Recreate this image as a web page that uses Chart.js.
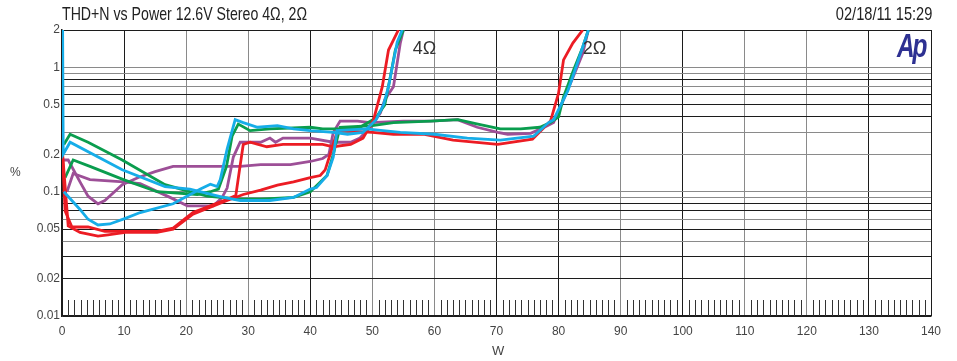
<!DOCTYPE html>
<html>
<head>
<meta charset="utf-8">
<script src="https://cdn.jsdelivr.net/npm/chart.js@4/dist/chart.umd.min.js"></script>
<style>
  body { margin: 0; background: #fff; }
  #wrap { position: relative; width: 957px; height: 361px; }
  .lbl {
    position: absolute;
    font-family: 'Liberation Sans Narrow', 'Arial Narrow', 'Liberation Sans', sans-serif;
    color: #222;
    white-space: nowrap;
    line-height: 1;
  }
  #title { left: 62px; top: 4px; font-size: 19px; transform: scaleX(0.745); transform-origin: left top; }
  #stamp { right: 25px; top: 4px; font-size: 19px; transform: scaleX(0.77); transform-origin: right top; }
  #unitY { left: 10px; top: 166px; font-size: 12px; color: #444; }
  #unitX { left: 492px; top: 344px; font-size: 13px; color: #444; }
  #logo {
    position: absolute; left: 897px; top: 29px;
    font-family: 'Liberation Sans', Arial, sans-serif;
    font-size: 33px; font-weight: bold; font-style: italic;
    color: #2e3192; letter-spacing: -3px; line-height: 1;
    transform: scaleX(0.74); transform-origin: left top;
  }
</style>
</head>
<body>
<div id="wrap">
  <canvas id="thd-chart" width="957" height="361"></canvas>
  <div class="lbl" id="title">THD+N vs Power 12.6V Stereo 4Ω, 2Ω</div>
  <div class="lbl" id="stamp">02/18/11 15:29</div>
  <div class="lbl" id="unitY">%</div>
  <div class="lbl" id="unitX">W</div>
  <div id="logo">Ap</div>
</div>
<script>
// Axis ticks
const xTicks = [0, 10, 20, 30, 40, 50, 60, 70, 80, 90, 100, 110, 120, 130, 140];
const yGridValues = [0.01, 0.02, 0.03, 0.04, 0.05, 0.06, 0.07, 0.08, 0.09,
    0.1, 0.2, 0.3, 0.4, 0.5, 0.6, 0.7, 0.8, 0.9, 1, 2];
const yTickLabels = [2, 1, 0.5, 0.2, 0.1, 0.05, 0.02, 0.01];

// Load annotations
const loadLabels = ['4Ω', '2Ω'];
const loadLabelW = [58.4, 85.8];
const loadLabelPct = [1.4, 1.4];

// 4 ohm curves (power W / THD+N %)
const red4W = [0.1, 0.5, 1.6, 4.2, 6.9, 10.2, 15.3, 17.9, 21.1, 23.9, 26.6, 28.0, 28.6, 29.2, 30.3, 33.0, 35.6, 40.0, 42.0, 43.7, 46.5, 48.5, 50.2, 51.6, 52.6, 54.2];
const red4Pct = [0.19, 0.07, 0.052, 0.052, 0.048, 0.048, 0.048, 0.051, 0.068, 0.077, 0.087, 0.093, 0.15, 0.24, 0.25, 0.23, 0.24, 0.24, 0.24, 0.23, 0.24, 0.27, 0.38, 0.7, 1.38, 2.0];

const green4W = [0.5, 1.8, 4.5, 9.9, 15.3, 21.8, 23.9, 25.2, 26.5, 27.4, 28.4, 30.3, 33.5, 40.0, 42.0, 45.0, 48.0, 50.5, 52.0, 52.9, 53.7, 55.0];
const green4Pct = [0.13, 0.18, 0.16, 0.125, 0.1, 0.095, 0.1, 0.105, 0.16, 0.28, 0.35, 0.31, 0.32, 0.33, 0.32, 0.32, 0.33, 0.39, 0.5, 0.84, 1.38, 2.0];

const cyan4W = [0.3, 2.9, 4.2, 5.8, 7.7, 10.2, 12.6, 17.9, 22.3, 23.9, 25.0, 25.5, 26.6, 27.9, 29.2, 31.5, 34.7, 37.3, 40.0, 43.7, 46.0, 48.5, 50.6, 51.8, 52.6, 53.2, 54.0, 54.8];
const cyan4Pct = [0.1, 0.072, 0.06, 0.054, 0.055, 0.061, 0.068, 0.08, 0.105, 0.115, 0.11, 0.125, 0.22, 0.38, 0.36, 0.33, 0.34, 0.32, 0.31, 0.3, 0.29, 0.3, 0.38, 0.5, 0.7, 1.0, 1.6, 2.0];

const purple4W = [0.8, 1.8, 4.5, 9.9, 12.6, 17.4, 20.2, 24.4, 25.8, 26.6, 27.6, 28.7, 32.0, 33.5, 34.4, 35.6, 40.0, 43.7, 46.5, 48.0, 49.7, 51.3, 52.0, 53.4, 54.5, 55.0];
const purple4Pct = [0.1, 0.14, 0.125, 0.12, 0.116, 0.09, 0.077, 0.077, 0.09, 0.107, 0.19, 0.25, 0.25, 0.27, 0.25, 0.27, 0.27, 0.25, 0.25, 0.27, 0.33, 0.43, 0.55, 0.7, 1.57, 2.0];

// 2 ohm curves
const red2W = [0.1, 1.0, 2.9, 5.8, 7.4, 10.2, 15.3, 17.9, 21.1, 23.9, 26.6, 29.2, 32.0, 34.7, 37.3, 40.0, 41.6, 42.4, 43.2, 44.2, 44.8, 50.0, 53.4, 58.2, 63.0, 70.2, 75.8, 78.7, 80.0, 80.8, 82.3, 83.9];
const red2Pct = [0.2, 0.053, 0.047, 0.044, 0.045, 0.047, 0.047, 0.05, 0.066, 0.075, 0.085, 0.095, 0.103, 0.113, 0.12, 0.13, 0.135, 0.15, 0.2, 0.29, 0.31, 0.3, 0.29, 0.29, 0.26, 0.24, 0.265, 0.37, 0.62, 1.15, 1.57, 2.0];

const green2W = [0.3, 1.3, 4.2, 9.7, 16.6, 20.6, 23.4, 28.7, 32.0, 37.3, 40.0, 42.7, 43.7, 44.8, 50.0, 53.4, 59.4, 63.8, 67.0, 70.6, 73.9, 77.0, 78.7, 80.0, 80.8, 82.4, 83.9, 84.8];
const green2Pct = [0.24, 0.29, 0.25, 0.18, 0.114, 0.1, 0.092, 0.087, 0.087, 0.09, 0.1, 0.135, 0.2, 0.33, 0.34, 0.36, 0.37, 0.38, 0.35, 0.32, 0.32, 0.33, 0.36, 0.4, 0.58, 0.95, 1.46, 2.0];

const cyan2W = [0.1, 0.2, 1.3, 9.7, 16.6, 20.6, 26.0, 28.7, 33.5, 37.3, 40.0, 41.0, 42.7, 43.7, 44.3, 49.0, 54.5, 60.0, 65.3, 70.6, 76.0, 78.4, 79.2, 81.5, 83.0, 84.8];
const cyan2Pct = [2.0, 0.2, 0.25, 0.15, 0.11, 0.105, 0.09, 0.085, 0.085, 0.09, 0.105, 0.108, 0.135, 0.19, 0.31, 0.32, 0.3, 0.29, 0.27, 0.26, 0.28, 0.36, 0.38, 0.65, 1.07, 2.0];

const purple2W = [0.1, 1.0, 2.9, 4.2, 5.8, 6.9, 9.7, 12.3, 15.0, 17.9, 23.4, 28.7, 32.0, 36.8, 40.0, 42.0, 43.0, 43.7, 44.8, 47.6, 49.7, 55.0, 59.4, 63.7, 66.9, 70.2, 71.8, 75.5, 78.2, 79.2, 80.8, 82.4, 83.9, 84.8];
const purple2Pct = [0.18, 0.18, 0.12, 0.092, 0.08, 0.085, 0.114, 0.13, 0.145, 0.16, 0.16, 0.16, 0.165, 0.165, 0.175, 0.185, 0.2, 0.3, 0.37, 0.37, 0.36, 0.37, 0.37, 0.38, 0.33, 0.3, 0.29, 0.295, 0.34, 0.36, 0.55, 0.85, 1.3, 2.0];

const RED = '#ec1c24';
const GREEN = '#0a9d4e';
const CYAN = '#16ade8';
const PURPLE = '#9d4f97';
const FONT = "'Liberation Sans Narrow', 'Arial Narrow', 'Liberation Sans', sans-serif";

const toPoints = (xs, ys) => xs.map((x, i) => ({ x, y: ys[i] }));

function curve(xs, ys, color) {
    return {
        data: toPoints(xs, ys),
        borderColor: color,
        borderWidth: 2.8,
        pointRadius: 0,
        tension: 0,
        fill: false,
    };
}

// lighter / darker grid lines like the AP plot
const grayX = [20, 30, 50, 60, 90, 110, 120];
const grayY = [0.04, 0.06, 0.09, 0.1, 0.2, 0.3, 0.7, 0.9, 1];

// minor ticks along the bottom edge + load annotations
const extras = {
    id: 'extras',
    beforeDatasetsDraw(chart) {
        const { ctx, chartArea, scales } = chart;
        ctx.save();
        ctx.strokeStyle = '#333';
        ctx.lineWidth = 1;
        ctx.beginPath();
        for (let v = 1; v < 140; v++) {
            if (v % 10 === 0) continue;
            const px = Math.round(scales.x.getPixelForValue(v)) + 0.5;
            ctx.moveTo(px, chartArea.bottom);
            ctx.lineTo(px, chartArea.bottom - 16);
        }
        ctx.stroke();
        ctx.restore();
    },
    afterDatasetsDraw(chart) {
        const { ctx, scales } = chart;
        ctx.save();
        ctx.fillStyle = '#333';
        ctx.font = '18px ' + FONT;
        ctx.textAlign = 'center';
        ctx.textBaseline = 'middle';
        loadLabels.forEach((t, i) => {
            ctx.fillText(t, scales.x.getPixelForValue(loadLabelW[i]), scales.y.getPixelForValue(loadLabelPct[i]));
        });
        ctx.restore();
    },
};

new Chart(document.getElementById('thd-chart'), {
    type: 'line',
    data: {
        datasets: [
            curve(cyan2W, cyan2Pct, CYAN),
            curve(cyan4W, cyan4Pct, CYAN),
            curve(red2W, red2Pct, RED),
            curve(red4W, red4Pct, RED),
            curve(green2W, green2Pct, GREEN),
            curve(green4W, green4Pct, GREEN),
            curve(purple2W, purple2Pct, PURPLE),
            curve(purple4W, purple4Pct, PURPLE),
        ],
    },
    options: {
        responsive: false,
        animation: false,
        layout: { padding: { left: 0, top: 30, right: 26, bottom: 0 } },
        plugins: {
            legend: { display: false },
            tooltip: { enabled: false },
        },
        scales: {
            x: {
                type: 'linear',
                min: 0,
                max: 140,
                afterBuildTicks: (scale) => { scale.ticks = xTicks.map((v) => ({ value: v })); },
                afterFit: (scale) => { scale.height = 45; },
                grid: {
                    drawTicks: false,
                    lineWidth: 1,
                    color: (c) => (c.tick && grayX.includes(c.tick.value) ? '#8a8a8a' : '#1c1c1c'),
                },
                border: { color: '#1c1c1c', width: 1.5 },
                ticks: {
                    padding: 8,
                    color: '#444',
                    font: { family: FONT, size: 12 },
                    maxRotation: 0,
                },
            },
            y: {
                type: 'logarithmic',
                min: 0.01,
                max: 2,
                afterBuildTicks: (scale) => { scale.ticks = yGridValues.map((v) => ({ value: v })); },
                afterFit: (scale) => { scale.width = 62; },
                grid: {
                    drawTicks: false,
                    lineWidth: 1,
                    color: (c) => (c.tick && grayY.includes(c.tick.value) ? '#8a8a8a' : '#1c1c1c'),
                },
                border: { color: '#1c1c1c', width: 1.5 },
                ticks: {
                    padding: 2,
                    color: '#444',
                    autoSkip: false,
                    font: { family: FONT, size: 12 },
                    callback: (v) => (yTickLabels.includes(v) ? String(v) : ''),
                },
            },
        },
    },
    plugins: [extras],
});
</script>
</body>
</html>
